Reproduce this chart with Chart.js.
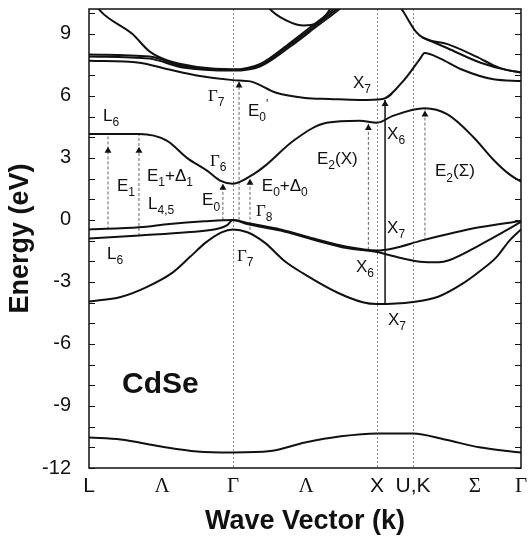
<!DOCTYPE html>
<html>
<head>
<meta charset="utf-8">
<title>CdSe band structure</title>
<script src="https://cdn.jsdelivr.net/npm/chart.js@4.4.1/dist/chart.umd.min.js"></script>
<style>
  body { margin: 0; background: #fff; }
  #wrap { width: 528px; height: 542px; }
</style>
</head>
<body>
<div id="wrap"><canvas id="bands"></canvas></div>
<script>
// k path: L -> Gamma -> X -> U,K -> Gamma
const kTicks = [0, 0.507, 1, 1.507, 2, 2.25, 2.68, 3];
const kLabels = ['L', 'Λ', 'Γ', 'Λ', 'X', 'U,K', 'Σ', 'Γ'];
const kLines = [1, 2, 2.25];
const eTicks = [-12, -9, -6, -3, 0, 3, 6, 9];

// bands as [k, E (eV)]
const sBand = [[0,-10.52],[0.22,-10.62],[0.5,-10.96],[0.75,-11.2],[1,-11.25],[1.26,-11.18],[1.5,-10.77],[1.75,-10.47],[2,-10.33],[2.25,-10.33],[2.47,-10.62],[2.71,-11.0],[3,-11.25]];
const soBand = [[0,-3.95],[0.22,-3.73],[0.4,-3.25],[0.58,-2.55],[0.7,-1.8],[0.81,-1.1],[0.92,-0.6],[1,-0.46],[1.1,-0.6],[1.22,-1.1],[1.36,-2.0],[1.49,-2.6],[1.72,-3.5],[1.9,-3.98],[2,-4.07],[2.25,-3.97],[2.42,-3.73],[2.6,-3.06],[2.72,-2.45],[2.83,-1.8],[2.92,-1.0],[3,-0.46]];
const hhBand = [[0,-0.46],[0.35,-0.36],[0.56,-0.2],[0.8,-0.07],[1,0],[1.1,-0.15],[1.33,-0.46],[1.56,-0.9],[1.79,-1.3],[2,-1.48],[2.11,-1.38],[2.32,-0.98],[2.71,-0.36],[3,-0.05]];
const lhBand = [[0,-0.9],[0.35,-0.75],[0.68,-0.6],[0.9,-0.42],[0.96,-0.25],[1,0],[1.1,-0.2],[1.33,-0.52],[1.56,-0.96],[1.79,-1.36],[2,-1.55],[2.11,-1.75],[2.3,-2.02],[2.43,-2.05],[2.5,-1.95],[2.71,-1.23],[2.9,-0.5],[3,-0.1]];
const c1Band = [[0,4.15],[0.35,4.15],[0.54,3.83],[0.68,3.0],[0.82,2.38],[0.91,1.9],[1,1.75],[1.14,2.2],[1.22,2.6],[1.42,3.83],[1.65,4.7],[1.88,4.8],[2,4.7],[2.11,5.03],[2.33,5.4],[2.49,5.1],[2.67,4.0],[2.81,2.9],[2.92,2.2],[3,1.85]];
const c2Band = [[0,7.7],[0.35,7.6],[0.54,7.3],[0.77,6.96],[1,6.76],[1.12,6.7],[1.3,6.15],[1.5,5.9],[1.67,5.85],[1.88,5.8],[2.04,5.85],[2.18,6.7],[2.3,7.8],[2.33,8.07],[2.44,7.8],[2.58,7.3],[2.81,6.8],[3,6.72]];
const c3Band = [[0,8.0],[0.42,7.9],[0.65,7.44],[1,7.25],[1.19,7.5],[1.4,8.5],[1.58,9.45],[1.72,10.2],[1.8,10.7]];
const c3bBand = [[0,7.9],[0.42,7.8],[0.65,7.37],[1,7.22],[1.19,7.43],[1.4,8.4],[1.58,9.35],[1.74,10.2],[1.82,10.7]];
const c4Band = [[0,10.9],[0.08,10.1],[0.3,9.0],[0.42,8.15],[0.54,7.72],[0.75,7.4],[1,7.28],[1.19,7.55],[1.4,8.58],[1.58,9.55],[1.7,10.2],[1.78,10.7]];
const c5Band = [[1.2,10.7],[1.27,10.1],[1.4,9.55],[1.49,9.4],[1.58,9.5],[1.65,9.95],[1.7,10.5]];
const c6Band = [[2.12,10.7],[2.18,10.1],[2.27,9.1],[2.32,8.8],[2.49,8.5],[2.69,7.9],[2.85,7.35],[3,7.12]];
const c7Band = [[2.31,8.85],[2.49,8.3],[2.72,7.6],[2.92,7.22],[3,7.15]];

// optical transitions (vertical arrows)
const arrowK = [0.132, 0.347, 0.93, 1.042, 1.118, 1.94, 2.333, 2.056];
const arrowLow = [-0.46, -0.78, 0, 0, -0.48, -1.45, -1.0, -4.07];
const arrowHead = [3.35, 3.35, 1.55, 6.5, 1.8, 4.45, 5.1, 5.6];
const arrowHigh = [4.15, 4.15, 1.72, 6.72, 1.95, 4.65, 5.35, 5.8];

// point labels: '_' subscript, '^' superscript
const notes = [
  [0.097, 4.79, 'L_6'], [0.826, 5.76, 'Γ_7'], [1.104, 5.03, "E_0^'"], [0.84, 2.63, 'Γ_6'],
  [0.194, 1.42, 'E_1'], [0.403, 1.9, 'E_1+Δ_1'], [0.41, 0.55, 'L_4,5'], [0.785, 0.7, 'E_0'],
  [1.2, 1.42, 'E_0+Δ_0'], [1.16, 0.17, 'Γ_8'], [1.583, 2.72, 'E_2(X)'], [1.833, 6.38, 'X_7'],
  [2.07, 3.93, 'X_6'], [2.403, 2.1, 'E_2(Σ)'], [2.07, -0.65, 'X_7'], [1.854, -2.53, 'X_6'],
  [2.076, -5.08, 'X_7'], [0.125, -1.9, 'L_6'], [1.028, -2.0, 'Γ_7']
];

const bandList = [sBand, soBand, hhBand, lhBand, c1Band, c2Band, c3Band, c3bBand, c4Band, c5Band, c6Band, c7Band];

const datasets = bandList.map(b => ({
  data: b.map(p => ({x: p[0], y: p[1]})),
  showLine: true,
  borderColor: '#111',
  borderWidth: 2,
  pointRadius: 0,
  cubicInterpolationMode: 'monotone'
}));

arrowK.forEach((k, i) => {
  const solid = i === arrowK.length - 1;
  datasets.push({
    data: [{x: k, y: arrowLow[i]}, {x: k, y: arrowHead[i]}, {x: k, y: arrowHigh[i]}],
    showLine: true,
    borderColor: solid ? '#111' : '#666',
    borderWidth: solid ? 1.5 : 1,
    borderDash: solid ? [] : [3, 2],
    pointStyle: 'triangle',
    pointRadius: [0, 4, 0],
    pointBackgroundColor: '#111',
    pointBorderWidth: 0
  });
});

function richText(ctx, x, y, str, size) {
  let i = 0;
  while (i < str.length) {
    const ch = str[i];
    if (ch === '_' || ch === '^') {
      let j = i + 1, run = '';
      if (ch === '^') { run = str[j]; j++; }
      else { while (j < str.length && /[0-9,?]/.test(str[j])) run += str[j++]; }
      ctx.font = Math.round(size * 0.72) + 'px "Liberation Sans"';
      ctx.fillText(run, x, y + (ch === '_' ? size * 0.3 : -size * 0.45));
      x += ctx.measureText(run).width;
      i = j;
    } else {
      let run = '';
      while (i < str.length && str[i] !== '_' && str[i] !== '^') run += str[i++];
      ctx.font = size + 'px ' + (/Γ/.test(run) ? '"Liberation Serif"' : '"Liberation Sans"');
      ctx.fillText(run, x, y);
      x += ctx.measureText(run).width;
    }
  }
}

const decor = {
  id: 'decor',
  afterDraw(chart) {
    const {ctx, chartArea: a, scales: {x, y}} = chart;
    ctx.save();
    ctx.strokeStyle = '#111';
    ctx.lineWidth = 1.5;
    ctx.strokeRect(a.left, a.top, a.right - a.left, a.bottom - a.top);
    ctx.lineWidth = 1;
    for (let v = -12; v <= 10; v++) {
      const py = Math.round(y.getPixelForValue(v)) + 0.5;
      ctx.beginPath();
      ctx.moveTo(a.left, py); ctx.lineTo(a.left + 6, py);
      ctx.moveTo(a.right - 6, py); ctx.lineTo(a.right, py);
      ctx.stroke();
    }
    ctx.fillStyle = '#111';
    ctx.textBaseline = 'alphabetic';
    ctx.textAlign = 'left';
    notes.forEach(n => richText(ctx, x.getPixelForValue(n[0]), y.getPixelForValue(n[1]), n[2], 17));
    ctx.font = 'bold 30px "Liberation Sans"';
    ctx.fillText('CdSe', x.getPixelForValue(0.23), y.getPixelForValue(-8.36));
    ctx.restore();
  }
};

new Chart(document.getElementById('bands'), {
  type: 'scatter',
  data: { datasets: datasets },
  options: {
    responsive: true,
    maintainAspectRatio: false,
    animation: false,
    layout: { padding: { top: 9, right: 7, left: 0, bottom: 0 } },
    plugins: { legend: { display: false }, tooltip: { enabled: false } },
    scales: {
      x: {
        type: 'linear', min: 0, max: 3,
        afterBuildTicks: s => { s.ticks = kTicks.map(v => ({value: v})); },
        afterFit: s => { s.height = 74; s.paddingLeft = 0; s.paddingRight = 0; },
        ticks: {
          autoSkip: false, maxRotation: 0, padding: 6, color: '#111',
          callback: (v, i) => kLabels[i],
          font: c => ({ family: /[ΛΓΣ]/.test(kLabels[c.index]) ? 'Liberation Serif' : 'Liberation Sans', size: 21 })
        },
        grid: {
          drawTicks: false,
          lineWidth: 1,
          color: c => (c.tick && kLines.includes(c.tick.value)) ? '#888' : 'rgba(0,0,0,0)'
        },
        border: { display: false, dash: [2, 2] },
        title: { display: true, text: 'Wave Vector (k)', color: '#111', font: { family: 'Liberation Sans', size: 27, weight: 'bold' } }
      },
      y: {
        type: 'linear', min: -12, max: 10.2,
        afterBuildTicks: s => { s.ticks = eTicks.map(v => ({value: v})); },
        afterFit: s => { s.width = 89; s.paddingTop = 0; s.paddingBottom = 0; },
        ticks: { padding: 10, color: '#111', font: { family: 'Liberation Sans', size: 20 } },
        grid: { display: false },
        border: { display: false },
        title: { display: true, text: 'Energy (eV)', color: '#111', font: { family: 'Liberation Sans', size: 27, weight: 'bold' } }
      }
    }
  },
  plugins: [decor]
});
</script>
</body>
</html>
